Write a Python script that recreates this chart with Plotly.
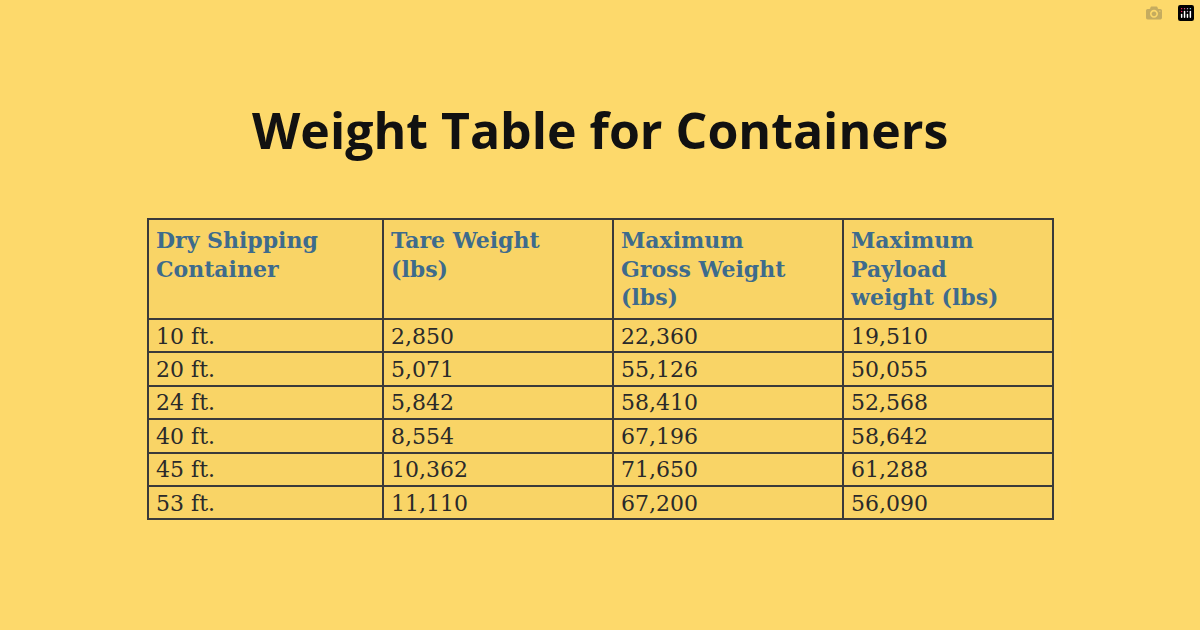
import plotly.graph_objects as go

headers = ["Dry Shipping<br>Container", "Tare Weight<br>(lbs)",
           "Maximum<br>Gross Weight<br>(lbs)", "Maximum<br>Payload<br>weight (lbs)"]
containers = ["10 ft.", "20 ft.", "24 ft.", "40 ft.", "45 ft.", "53 ft."]
tare = ["2,850", "5,071", "5,842", "8,554", "10,362", "11,110"]
gross = ["22,360", "55,126", "58,410", "67,196", "71,650", "67,200"]
payload = ["19,510", "50,055", "52,568", "58,642", "61,288", "56,090"]

bg = "#FDD96B"
cell_bg = "#F9D466"

fig = go.Figure(go.Table(
    domain=dict(x=[148 / 1200, 1053 / 1200], y=[1 - 520 / 630, 1 - 219 / 630]),
    columnwidth=[235, 230, 230, 210],
    header=dict(
        values=[f"<b>{h}</b>" for h in headers],
        fill_color=cell_bg,
        line=dict(color="#3a3a3a", width=2),
        align="left",
        height=100,
        font=dict(family="DejaVu Serif", size=22, color="#3E6B8C"),
    ),
    cells=dict(
        values=[containers, tare, gross, payload],
        fill_color=cell_bg,
        line=dict(color="#3a3a3a", width=2),
        align="left",
        height=33.4,
        font=dict(family="DejaVu Serif", size=22, color="#2a2a2a"),
    ),
))

fig.update_layout(
    width=1200, height=630,
    paper_bgcolor=bg, plot_bgcolor=bg,
    margin=dict(l=0, r=0, t=0, b=0),
    annotations=[dict(
        text="<b>Weight Table for Containers</b>",
        x=0.5, y=1 - 130 / 630, xref="paper", yref="paper",
        showarrow=False, xanchor="center", yanchor="middle",
        font=dict(family="Open Sans", size=50, color="#111111"),
    )],
)

fig.write_html("out.html", post_script="document.body.style.margin='0';")
